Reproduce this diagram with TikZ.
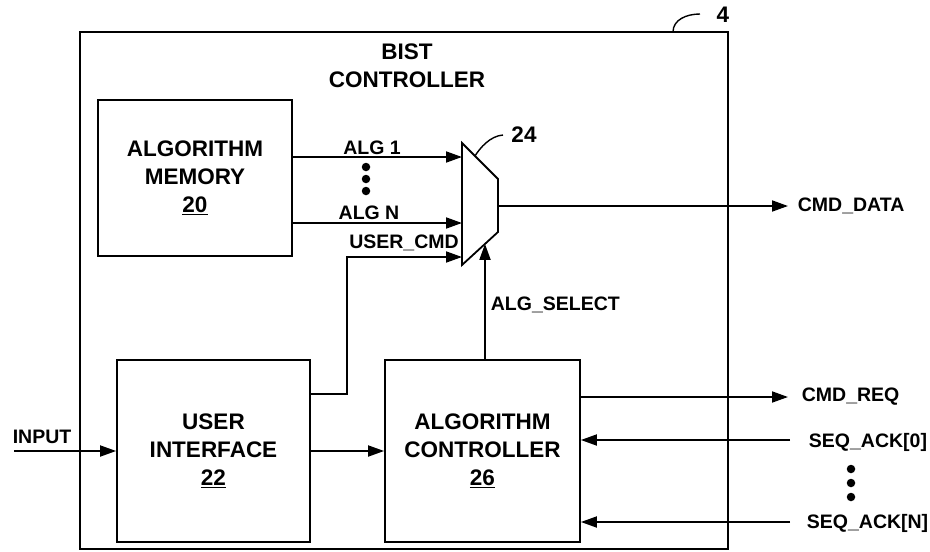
\documentclass[tikz,border=0pt]{standalone}
\usepackage{fontspec}
\setmainfont{Liberation Sans}
\usetikzlibrary{arrows.meta,calc}
\begin{document}
\begin{tikzpicture}[x=1pt,y=-1pt,line width=1.8pt,
  blk/.style={draw,inner sep=0pt,align=center,
    font=\bfseries\fontsize{22.5}{28}\selectfont},
  lbl/.style={inner sep=0pt,font=\bfseries\fontsize{19.5}{22}\selectfont},
  arr/.style={-{Triangle[length=16pt,width=11pt]}},
  dot/.style={fill,circle,inner sep=0pt,minimum size=8.5pt}]
\useasboundingbox (0,0) rectangle (930,552);
% outer box
\node[draw,inner sep=0pt,minimum width=648pt,minimum height=517pt] (outer) at (404,290.5) {};
\node[lbl,align=center,font=\bfseries\fontsize{22.5}{28}\selectfont] (title) at (407,66) {BIST\\CONTROLLER};
% leader 4
\coordinate (l4) at (673,32);
\node[lbl,font=\bfseries\fontsize{22.5}{24}\selectfont] (n4) at (723,15) {4};
\draw[line width=1.4pt] (l4) .. controls (673,20) and (686,14) .. (700,14);
% blocks
\node[blk,minimum width=194pt,minimum height=156pt] (mem) at (195,178) {ALGORITHM\\MEMORY\\\underline{20}};
\node[blk,minimum width=193pt,minimum height=182pt] (ui) at (213.5,451) {USER\\INTERFACE\\\underline{22}};
\node[blk,minimum width=195pt,minimum height=182pt] (ac) at (482.5,451) {ALGORITHM\\CONTROLLER\\\underline{26}};
% mux
\coordinate (mtl) at (462,143);
\coordinate (mtr) at (498,179);
\coordinate (mbr) at (498,232);
\coordinate (mbl) at (462,265);
\draw (mtl) -- (mtr) -- (mbr) -- (mbl) -- cycle;
\coordinate (l24) at ($(mtl)!0.36!(mtr)$);
\draw[line width=1.4pt] (l24) .. controls (480,148) and (490,136) .. (503,135);
\node[lbl,font=\bfseries\fontsize{22.5}{24}\selectfont] (n24) at (524,135) {24};
% mux inputs
\coordinate (in1) at (462,157);
\coordinate (inN) at (462,223);
\coordinate (inU) at (462,257);
\draw[arr] (mem.east |- in1) -- (in1);
\draw[arr] (mem.east |- inN) -- (inN);
\node[lbl] (alg1) at (372,148) {ALG 1};
\node[lbl] (algN) at (369,213) {ALG N};
\node[dot] (d1) at (366,167) {};
\node[dot] (d2) at (366,179) {};
\node[dot] (d3) at (366,191) {};
\coordinate (ucs) at (310,394);
\draw[arr] (ucs) -- (347,394) -- (347,257) -- (inU);
\node[lbl] (ucmd) at (404,243) {USER\_CMD};
% output
\coordinate (mout) at (498,206);
\coordinate (cdt) at (788,206);
\draw[arr] (mout) -- (cdt);
\node[lbl,anchor=west] (cmddata) at (797,206) {CMD\_DATA};
% alg select
\coordinate (sel) at ($(mbl)!0.639!(mbr)$);
\draw[arr] (ac.north -| sel) -- (sel);
\node[lbl,anchor=west] (algsel) at (490,305) {ALG\_SELECT};
% input
\coordinate (inp) at (14,451);
\draw[arr] (inp) -- (ui.west);
\node[lbl] (input) at (42,437) {INPUT};
\draw[arr] (ui.east) -- (ac.west);
% right side
\coordinate (creq) at (788,397);
\draw[arr] (ac.east |- creq) -- (creq);
\node[lbl,anchor=west] (cmdreq) at (801,397) {CMD\_REQ};
\coordinate (s0) at (790,440);
\coordinate (sN) at (790,522);
\draw[arr] (s0) -- (ac.east |- s0);
\draw[arr] (sN) -- (ac.east |- sN);
\node[lbl,anchor=west] (seq0) at (808,442) {SEQ\_ACK[0]};
\node[lbl,anchor=west] (seqN) at (806,523) {SEQ\_ACK[N]};
\node[dot] (e1) at (851,469) {};
\node[dot] (e2) at (851,483) {};
\node[dot] (e3) at (851,497) {};
\end{tikzpicture}
\end{document}
